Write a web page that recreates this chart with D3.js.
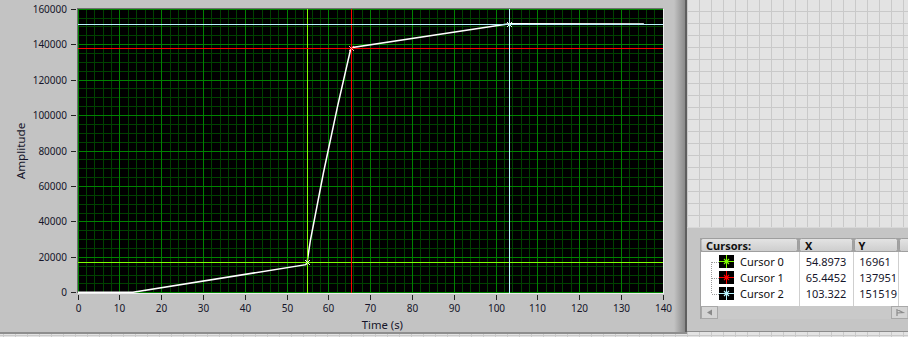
<!DOCTYPE html>
<html><head><meta charset="utf-8">
<script src="https://cdn.jsdelivr.net/npm/d3@7"></script>
<style>html,body{margin:0;padding:0;background:#e3e3e3;overflow:hidden}svg{display:block}</style>
</head><body>
<svg id="c" width="908" height="337"></svg>
<script>
// ---------- data ----------
const timeS     = [0, 13.2, 54.6, 54.9, 55.7, 58.8, 62.2, 65.4, 103.3, 135.5];
const amplitude = [0, 0, 15600, 16961, 29500, 67300, 105000, 137951, 151519, 151300];
const xTicks = [0, 10, 20, 30, 40, 50, 60, 70, 80, 90, 100, 110, 120, 130, 140];
const yTicks = [0, 20000, 40000, 60000, 80000, 100000, 120000, 140000, 160000];
const cursorNames = ["Cursor 0", "Cursor 1", "Cursor 2"];
const cursorX = [54.8973, 65.4452, 103.322];
const cursorY = [16961, 137951, 151519];
const cursorXLabels = ["54.8973", "65.4452", "103.322"];
const cursorYLabels = ["16961", "137951", "151519"];
const xTitle = "Time (s)";
const yTitle = "Amplitude";

// ---------- styles ----------
const cursorColors = ["#80ff00", "#ff0000", "#b8f4ff"];
const FONT = "'Noto Sans', 'Liberation Sans', sans-serif";
const TXT = "#15152a";

const svg = d3.select("#c");
const defs = svg.append("defs");

// panel grid background
const pat = defs.append("pattern").attr("id", "pg").attr("patternUnits", "userSpaceOnUse")
  .attr("x", 3).attr("y", 11).attr("width", 12).attr("height", 12);
pat.append("rect").attr("width", 12).attr("height", 12).attr("fill", "#e3e3e3");
pat.append("rect").attr("width", 1).attr("height", 12).attr("fill", "#c9c9c9");
pat.append("rect").attr("width", 12).attr("height", 1).attr("fill", "#c9c9c9");
svg.append("rect").attr("width", 908).attr("height", 337).attr("fill", "url(#pg)");

// graph control
svg.append("rect").attr("x", 0).attr("y", 0).attr("width", 687).attr("height", 334).attr("fill", "#c3c3c3");
const bev = defs.append("linearGradient").attr("id", "bev");
bev.append("stop").attr("offset", 0).attr("stop-color", "#c3c3c3");
bev.append("stop").attr("offset", 1).attr("stop-color", "#8a8a8a");
svg.append("rect").attr("x", 674).attr("y", 0).attr("width", 11).attr("height", 333).attr("fill", "url(#bev)");
svg.append("rect").attr("x", 685).attr("y", 0).attr("width", 2).attr("height", 334).attr("fill", "#5f5f5f");
svg.append("rect").attr("x", 0).attr("y", 332).attr("width", 687).attr("height", 2).attr("fill", "#8e8e8e");

// scales
const x = d3.scaleLinear().domain([0, 140]).range([77.7, 662.7]);
const y = d3.scaleLinear().domain([0, 160000]).range([292.3, 8.7]);
const px = v => Math.round(x(v)) + 0.5;
const py = v => Math.round(y(v)) + 0.5;

// plot area
const L = 78, T = 9, R = 663, B = 293;
svg.append("rect").attr("x", L).attr("y", T).attr("width", R - L).attr("height", B - T).attr("fill", "#000");
defs.append("clipPath").attr("id", "clip").append("rect").attr("x", L).attr("y", T).attr("width", R - L).attr("height", B - T);
const plot = svg.append("g").attr("clip-path", "url(#clip)");

// grid
const minorX = d3.range(0, 141, 2).filter(v => v % 10 !== 0);
const minorY = d3.range(0, 160001, 5000).filter(v => v % 20000 !== 0);
const g = plot.append("g").attr("shape-rendering", "crispEdges");
g.selectAll(".mx").data(minorX).join("line").attr("x1", px).attr("x2", px).attr("y1", T).attr("y2", B).attr("stroke", "#004200");
g.selectAll(".my").data(minorY).join("line").attr("y1", py).attr("y2", py).attr("x1", L).attr("x2", R).attr("stroke", "#004200");
g.selectAll(".Mx").data(xTicks).join("line").attr("x1", px).attr("x2", px).attr("y1", T).attr("y2", B).attr("stroke", "#008200");
g.selectAll(".My").data(yTicks).join("line").attr("y1", py).attr("y2", py).attr("x1", L).attr("x2", R).attr("stroke", "#008200");

// curve
const pts = timeS.map((t, i) => [t, amplitude[i]]);
plot.append("path").datum(pts)
  .attr("d", d3.line().x(d => x(d[0])).y(d => y(d[1])))
  .attr("fill", "none").attr("stroke", "#fff").attr("stroke-width", 1.5);

// cursors
const cg = plot.append("g").attr("shape-rendering", "crispEdges");
cursorNames.forEach((n, i) => {
  cg.append("line").attr("x1", L).attr("x2", R).attr("y1", py(cursorY[i])).attr("y2", py(cursorY[i])).attr("stroke", cursorColors[i]);
  cg.append("line").attr("y1", T).attr("y2", B).attr("x1", px(cursorX[i])).attr("x2", px(cursorX[i])).attr("stroke", cursorColors[i]);
});
const mg = plot.append("g");
cursorNames.forEach((n, i) => {
  const cx = px(cursorX[i]), cy = py(cursorY[i]);
  mg.append("path").attr("d", `M${cx-2.5},${cy-2.5}L${cx+2.5},${cy+2.5}M${cx-2.5},${cy+2.5}L${cx+2.5},${cy-2.5}`)
    .attr("stroke", i === 1 ? "#ffb0b0" : "#e8fff0").attr("stroke-width", 1);
});

// plot frame
svg.append("path").attr("d", `M${L-0.5},${B}V${T-0.5}H${R}`).attr("fill", "none").attr("stroke", "#6e6e6e").attr("shape-rendering", "crispEdges");
svg.append("path").attr("d", `M${L-0.5},${B+0.5}H${R+0.5}V${T-0.5}`).attr("fill", "none").attr("stroke", "#eeeeee").attr("shape-rendering", "crispEdges");

// axes
const ya = svg.append("g").attr("transform", "translate(76,0)")
  .call(d3.axisLeft(y).tickValues(yTicks).tickSize(5).tickPadding(4).tickFormat(d3.format("d")));
ya.select(".domain").remove();
ya.selectAll(".tick line").attr("stroke", "#222").attr("shape-rendering", "crispEdges")
  .attr("transform", "translate(0,0.5)");
ya.selectAll(".tick").attr("transform", d => `translate(0,${Math.round(y(d))})`);
ya.selectAll("text").attr("font-family", FONT).attr("font-size", 10).attr("fill", TXT).attr("dy", "0.43em");

const xa = svg.append("g").attr("transform", "translate(0,295)")
  .call(d3.axisBottom(x).tickValues(xTicks).tickSize(5).tickPadding(5).tickFormat(d3.format("d")));
xa.select(".domain").remove();
xa.selectAll(".tick").attr("transform", d => `translate(${px(d)},0)`);
xa.selectAll(".tick line").attr("stroke", "#222").attr("shape-rendering", "crispEdges");
xa.selectAll("text").attr("font-family", FONT).attr("font-size", 10).attr("fill", TXT).attr("y", 16.7).attr("dy", 0);

svg.append("text").attr("x", 361.7).attr("y", 329).attr("font-family", FONT).attr("font-size", 11.3)
  .attr("fill", TXT).text(xTitle);
svg.append("text").attr("transform", "translate(25,151) rotate(-90)").attr("text-anchor", "middle")
  .attr("font-family", FONT).attr("font-size", 11.6).attr("fill", TXT).text(yTitle);

// ---------- cursor legend ----------
const lg = svg.append("g");
lg.append("rect").attr("x", 687).attr("y", 227).attr("width", 221).attr("height", 105).attr("fill", "#c5c5c5");
lg.append("rect").attr("x", 687).attr("y", 227).attr("width", 221).attr("height", 1).attr("fill", "#d8d8d8");
lg.append("rect").attr("x", 687).attr("y", 331).attr("width", 221).attr("height", 1).attr("fill", "#8c8c8c");
lg.append("rect").attr("x", 700).attr("y", 238).attr("width", 208).attr("height", 81).attr("fill", "#a2a2a2");

const hg = defs.append("linearGradient").attr("id", "hg").attr("x1", 0).attr("x2", 0).attr("y1", 0).attr("y2", 1);
hg.append("stop").attr("offset", 0).attr("stop-color", "#e4e4e4");
hg.append("stop").attr("offset", 1).attr("stop-color", "#cdcdcd");
const headerCells = [[701, 797.5], [799.5, 852.5], [854.5, 897.5], [899.5, 912]];
headerCells.forEach(c => {
  lg.append("rect").attr("x", c[0]).attr("y", 238.5).attr("width", c[1] - c[0]).attr("height", 13)
    .attr("rx", 2).attr("fill", "url(#hg)").attr("stroke", "#9e9e9e").attr("stroke-width", 1);
});
const headers = ["Cursors:", "X", "Y"];
const colX = [706, 805, 858.5];
headers.forEach((h, i) => lg.append("text").attr("x", colX[i]).attr("y", 250).attr("font-family", FONT)
  .attr("font-weight", "bold").attr("font-size", 11).attr("fill", "#101010").text(h));

lg.append("rect").attr("x", 701).attr("y", 252).attr("width", 207).attr("height", 54).attr("fill", "#fff");
[799, 853.5, 898.5].forEach(cx => lg.append("line").attr("x1", cx).attr("x2", cx).attr("y1", 252).attr("y2", 306)
  .attr("stroke", "#cfcfcf").attr("shape-rendering", "crispEdges"));

// scrollbar
lg.append("rect").attr("x", 701).attr("y", 306).attr("width", 207).attr("height", 13).attr("fill", "#c9c9c9");
lg.append("rect").attr("x", 701.5).attr("y", 306.5).attr("width", 16).attr("height", 12).attr("fill", "#d4d4d4").attr("stroke", "#a8a8a8");
lg.append("path").attr("d", "M707,312.5L712,309.5V315.5Z").attr("fill", "#8a8a8a");
lg.append("rect").attr("x", 891.5).attr("y", 306.5).attr("width", 16.5).attr("height", 12).attr("fill", "#d4d4d4").attr("stroke", "#a8a8a8");
lg.append("path").attr("d", "M897,309V316M897,309.5L903,312.5L897,313").attr("fill", "none").attr("stroke", "#8a8a8a").attr("stroke-width", 1.2);

// rows
const rowC = [261.7, 277.9, 293.8];
lg.append("path").attr("d", `M711.5,${rowC[0]}V${rowC[2]}` + rowC.map(c => `M711.5,${Math.round(c)+0.5}H719`).join(""))
  .attr("fill", "none").attr("stroke", "#9a9a9a").attr("stroke-dasharray", "1,1").attr("shape-rendering", "crispEdges");

cursorNames.forEach((n, i) => {
  const cy = rowC[i];
  const ix = 719, iy = Math.round(cy) - 7, iw = 15, ih = 13;
  lg.append("rect").attr("x", ix).attr("y", iy).attr("width", iw).attr("height", ih).attr("fill", "#000");
  const mx = ix + 7.5, my = iy + 6.5;
  lg.append("path").attr("d", `M${ix},${my}H${ix+iw}M${mx},${iy}V${iy+ih}`).attr("stroke", cursorColors[i]).attr("shape-rendering", "crispEdges");
  lg.append("path").attr("d", `M${mx-2.5},${my-2.5}L${mx+2.5},${my+2.5}M${mx-2.5},${my+2.5}L${mx+2.5},${my-2.5}`)
    .attr("stroke", cursorColors[i]).attr("stroke-width", 1.1);
  const t = lg.append("text").attr("x", 740).attr("y", cy + 4).attr("font-family", FONT).attr("font-size", 11)
    .attr("fill", "#101010").text(n);
  if (i === 2) {
    const w = t.node().getComputedTextLength();
    lg.insert("rect", "text").attr("x", 736).attr("y", 286.5).attr("width", w + 5.5).attr("height", 15).attr("fill", "#ffff00");
  }
  lg.append("text").attr("x", 805.7).attr("y", cy + 4).attr("font-family", FONT).attr("font-size", 11)
    .attr("fill", TXT).text(cursorXLabels[i]);
  lg.append("text").attr("x", 859.3).attr("y", cy + 4).attr("font-family", FONT).attr("font-size", 11)
    .attr("fill", TXT).text(cursorYLabels[i]);
});
</script>
</body></html>
